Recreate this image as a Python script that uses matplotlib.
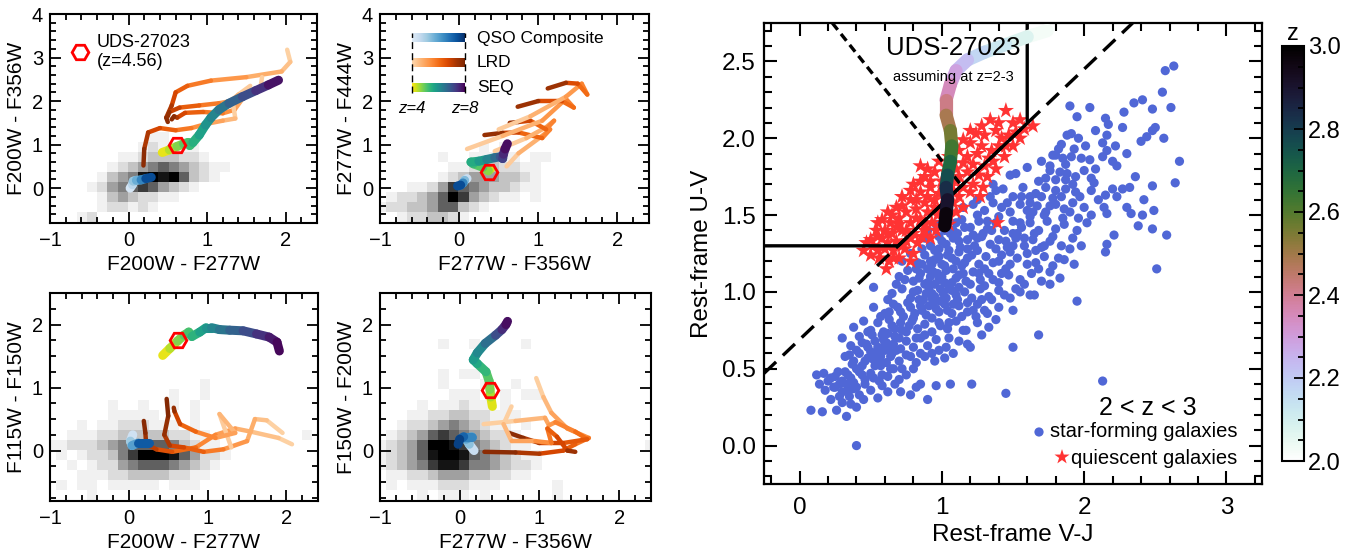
import numpy as np
import matplotlib
matplotlib.use("Agg")
import matplotlib.pyplot as plt
from matplotlib.collections import LineCollection
from matplotlib.ticker import MultipleLocator, FormatStrFormatter
from matplotlib import colors as mcolors
from matplotlib.cm import ScalarMappable

plt.rcParams['font.family'] = ['Liberation Sans', 'DejaVu Sans']

# ---------------- data ----------------
obj_p1 = (0.62, 0.98)
obj_p2 = (0.38, 0.37)
obj_p3 = (0.62, 1.76)
obj_p4 = (0.38, 0.96)

heat1 = [
    "000120000000000000000000000",
    "000001221210000000000000000",
    "000001343221100000000000000",
    "000012456764321000000000000",
    "000001345898963210000000000",
    "000000123456543211000000000",
    "000000011233322100000000000",
    "000000000121111000000000000",
    "000000000011000000000000000",
]
heat2 = [
    "001223321000000000000000000",
    "122334663210000000000000000",
    "012234697432110100000000000",
    "000112476543321100000000000",
    "000000123444332100000000000",
    "000000011223221100000000000",
    "000000100111110110000000000",
    "000000000010100000000000000",
]
heat3 = [
    "000010000000000000000000000",
    "010110111110111000000000000",
    "000111223333221100000000000",
    "001012245666543210000000000",
    "010122357999864221000000000",
    "112223456666532110000000000",
    "001112233333221100000000010",
    "000101122211101000000000000",
    "000000111110001000000000000",
    "000000100100101000000000000",
    "000000000000100100000000000",
    "000000000000000100000000000",
]
heat4 = [
    "000010111010000001000000000",
    "010111222111000001000000000",
    "011223444332211000000000000",
    "123457887554322100000000000",
    "123468998654321100000000000",
    "123469987543211000000000001",
    "012346765432210000000000000",
    "001223454321101000000000000",
    "000112233221110000000000000",
    "000010112110100000000000000",
    "000000011100101100000000000",
    "000000100010010000000000000",
    "000000101100000000000000000",
    "000000000000000000000000000",
    "000000000000000000000000000",
    "000000100100001000000000000",
]

seq1 = [(0.43,0.82,4.0),(0.52,0.88,4.3),(0.62,0.96,4.6),(0.70,1.02,4.9),(0.76,1.05,5.1),
        (0.78,0.98,5.2),(0.82,1.05,5.35),(0.90,1.22,5.6),(0.98,1.45,5.85),(1.05,1.62,6.05),
        (1.15,1.80,6.3),(1.28,1.95,6.6),(1.45,2.10,6.9),(1.62,2.24,7.25),(1.78,2.37,7.6),(1.91,2.48,8.0)]
seq2 = [(0.40,0.45,4.0),(0.37,0.40,4.5),(0.30,0.48,4.9),(0.18,0.56,5.2),(0.15,0.60,5.4),
        (0.25,0.62,5.7),(0.35,0.66,6.0),(0.45,0.70,6.4),(0.52,0.72,6.8),(0.55,0.68,7.1),
        (0.56,0.78,7.4),(0.58,0.90,7.7),(0.61,1.02,8.0)]
seq3 = [(0.43,1.51,4.0),(0.52,1.62,4.3),(0.62,1.74,4.6),(0.70,1.83,4.9),(0.76,1.88,5.1),
        (0.80,1.81,5.25),(0.90,1.88,5.6),(0.98,1.95,5.85),(1.05,1.95,6.05),(1.15,1.92,6.3),
        (1.28,1.91,6.6),(1.45,1.90,6.9),(1.62,1.85,7.25),(1.78,1.80,7.6),(1.88,1.72,7.85),(1.91,1.58,8.0)]
seq4 = [(0.41,0.70,4.0),(0.39,0.85,4.4),(0.38,0.97,4.6),(0.37,1.10,4.9),(0.33,1.25,5.2),
        (0.22,1.38,5.5),(0.17,1.44,5.7),(0.22,1.55,5.95),(0.32,1.70,6.3),(0.45,1.83,6.8),
        (0.53,1.92,7.3),(0.58,2.00,7.7),(0.60,2.05,8.0)]

qso1 = [(0.02,0.00,4.0),(0.05,0.08,4.5),(0.06,0.16,5.0),(0.10,0.18,5.5),(0.16,0.19,6.0),(0.22,0.22,7.0),(0.29,0.25,8.0)]
qso2 = [(0.10,0.22,4.0),(0.07,0.18,5.0),(0.05,0.12,6.0),(0.02,0.07,7.0),(-0.02,0.05,8.0)]
qso3 = [(0.05,0.25,4.0),(0.02,0.15,4.8),(0.04,0.08,5.5),(0.12,0.12,6.5),(0.26,0.12,8.0)]
qso4 = [(0.18,0.00,4.0),(0.12,0.10,5.0),(0.08,0.18,5.7),(0.15,0.22,6.2),(0.05,0.22,6.8),(0.00,0.18,7.4),(-0.02,0.10,8.0)]

lrd1 = [
    [(2.02,3.18,4.0),(2.06,2.90,4.3),(1.95,2.68,4.6),(1.50,2.55,5.0),(1.05,2.47,5.5),(0.75,2.35,6.0),
     (0.60,2.20,6.5),(0.55,1.90,7.0),(0.48,1.62,7.5),(0.50,1.52,8.0)],
    [(1.70,2.55,4.0),(1.68,2.30,4.4),(1.45,2.05,4.8),(1.35,1.80,5.2),(1.20,1.72,5.6),(0.95,1.75,6.0),
     (0.72,1.73,6.5),(0.62,1.62,7.0),(0.58,1.65,7.5),(0.55,1.58,8.0)],
    [(1.32,2.05,4.0),(1.36,1.60,4.4),(1.20,1.55,4.8),(1.00,1.48,5.2),(0.80,1.38,5.6),(0.60,1.33,6.0),
     (0.40,1.38,6.5),(0.25,1.28,7.0),(0.20,0.90,7.5),(0.19,0.52,8.0)],
    [(1.55,2.35,4.0),(1.40,2.15,4.5),(1.30,2.00,5.0),(1.15,1.95,5.5),(0.90,1.90,6.0),(0.65,1.85,6.6),(0.52,1.75,7.2),(0.50,1.65,8.0)],
]
lrd2 = [
    [(0.60,0.50,4.0),(0.75,0.80,4.5),(1.05,1.20,5.0),(1.15,1.35,5.4),(1.05,1.15,5.8),(0.75,1.28,6.5),(0.55,1.27,7.2),(0.32,1.22,8.0)],
    [(0.45,0.85,4.0),(0.85,1.15,4.5),(1.10,1.40,5.0),(1.20,1.55,5.4),(1.10,1.35,5.8),(0.90,1.55,6.5),(0.75,1.52,7.2),(0.64,1.50,8.0)],
    [(0.10,0.90,4.0),(0.55,1.20,4.5),(1.05,1.55,5.0),(1.35,2.05,5.5),(1.45,1.85,5.8),(1.30,2.00,6.3),(1.00,2.00,7.0),(0.74,1.87,8.0)],
    [(0.50,1.35,4.0),(0.90,1.65,4.5),(1.35,2.10,5.0),(1.55,2.40,5.4),(1.62,2.15,5.8),(1.50,2.40,6.3),(1.35,2.42,7.0),(1.12,2.29,8.0)],
]
lrd3 = [
    [(2.07,0.10,4.0),(1.90,0.20,4.3),(1.55,0.30,4.6),(1.35,0.35,4.9),(1.10,0.25,5.3),(0.85,0.05,5.8),
     (0.55,-0.02,6.3),(0.35,0.02,6.8),(0.22,0.10,7.3),(0.21,0.28,7.7),(0.19,0.47,8.0)],
    [(1.95,0.28,4.0),(1.75,0.48,4.3),(1.60,0.50,4.6),(1.50,0.15,5.0),(1.20,0.02,5.5),(0.95,-0.02,6.0),
     (0.70,0.05,6.5),(0.52,0.08,7.0),(0.45,0.25,7.5),(0.50,0.55,7.8),(0.48,0.82,8.0)],
    [(1.30,0.05,4.0),(1.15,0.58,4.5),(1.35,0.28,4.8),(1.10,0.20,5.3),(0.85,0.30,5.8),(0.65,0.42,6.5),(0.58,0.62,7.2),(0.57,0.68,8.0)],
]
lrd4 = [
    [(0.96,1.15,4.0),(1.05,0.85,4.4),(1.15,0.60,4.8),(1.35,0.35,5.2),(1.62,0.20,5.6),(1.45,0.10,6.0),
     (1.30,0.00,6.5),(1.00,-0.05,7.0),(0.70,-0.03,7.5),(0.31,-0.02,8.0)],
    [(0.30,0.42,4.0),(0.70,0.47,4.4),(1.07,0.52,4.8),(1.12,0.40,5.1),(1.20,0.45,5.4),(1.45,0.30,5.8),
     (1.60,0.18,6.2),(1.30,0.12,6.6),(1.00,0.12,7.0),(0.80,0.20,7.5),(0.62,0.28,8.0)],
    [(0.65,0.70,4.0),(0.55,0.42,4.4),(0.65,0.15,4.8),(0.95,0.15,5.2),(1.15,0.12,5.6),(1.10,0.35,6.0),(1.22,0.22,6.5),(1.35,0.00,7.0),(1.45,-0.02,8.0)],
]

sf_vj_uv = [
    (2.57,2.44),(2.63,2.47),(2.55,2.30),(2.41,2.25),(2.35,2.23),
    (1.90,2.21),(2.04,2.20),(2.61,2.20),(2.48,2.19),(2.28,2.17),(1.95,2.14),
    (2.15,2.13),(2.17,2.09),(2.27,2.07),(2.48,2.05),(2.50,2.07),(1.88,2.02),(1.91,2.03),
    (2.16,2.02),(2.44,2.01),(2.56,2.00),(2.40,1.98),(1.84,1.96),(1.93,1.93),(2.01,1.95),(2.13,1.97),(2.16,1.92),
    (1.78,1.89),(1.80,1.89),(1.85,1.87),(1.91,1.88),(1.98,1.87),(2.04,1.86),(2.13,1.88),(2.20,1.85),(2.23,1.82),
    (2.67,1.85),(1.87,1.83),(1.76,1.82),
    (1.48,1.76),(1.52,1.77),(1.60,1.81),(1.76,1.79),(1.83,1.78),(1.88,1.77),(1.94,1.75),(2.00,1.79),(2.08,1.80),
    (2.05,1.74),(2.07,1.71),(2.64,1.71),(1.73,1.74),(1.80,1.73),(1.87,1.73),
    (1.43,1.67),(1.57,1.68),(1.66,1.64),(1.73,1.68),(1.80,1.66),(1.87,1.67),(1.94,1.65),(2.27,1.67),(2.32,1.68),
    (2.20,1.67),(2.48,1.69),(2.15,1.63),(2.23,1.62),(1.34,1.62),(1.38,1.66),(1.50,1.62),(1.62,1.62),(1.78,1.61),
    (1.97,1.62),(1.36,1.70),
    (1.15,1.55),(1.22,1.57),(1.30,1.53),(1.36,1.58),(1.42,1.55),(1.48,1.52),(1.55,1.57),(1.60,1.53),(1.67,1.56),
    (1.73,1.52),(1.80,1.57),(1.86,1.54),(1.92,1.58),(2.00,1.55),(2.14,1.55),(2.16,1.51),(2.33,1.51),(2.41,1.50),
    (2.49,1.53),(1.25,1.50),(1.40,1.49),(1.62,1.49),
    (2.38,1.43),(2.48,1.41),(2.58,1.37),(2.21,1.37),
    (1.02,1.45),(1.08,1.40),(1.14,1.47),(1.20,1.42),(1.26,1.46),(1.32,1.41),(1.38,1.45),(1.44,1.40),(1.50,1.46),
    (1.56,1.42),(1.62,1.45),(1.68,1.40),(1.74,1.46),(1.80,1.41),(1.86,1.44),(1.95,1.40),(2.02,1.45),(1.11,1.38),
    (1.29,1.38),(1.53,1.38),
    (2.16,1.31),(2.15,1.26),
    (0.88,1.35),(0.92,1.30),(0.98,1.36),(1.03,1.31),(1.08,1.35),(1.13,1.29),(1.18,1.34),(1.23,1.30),(1.28,1.36),
    (1.34,1.31),(1.40,1.34),(1.46,1.29),(1.52,1.35),(1.58,1.30),(1.64,1.34),(1.70,1.29),(1.76,1.33),(1.84,1.30),
    (1.92,1.35),(1.98,1.30),(1.05,1.27),(1.25,1.27),
    (0.72,1.20),(0.78,1.25),(0.83,1.19),(0.88,1.24),(0.93,1.18),(0.98,1.23),(1.02,1.17),(1.07,1.22),(1.12,1.26),
    (1.16,1.19),(1.21,1.24),(1.26,1.18),(1.31,1.23),(1.36,1.19),(1.42,1.24),(1.48,1.18),(1.53,1.22),(1.60,1.25),
    (1.66,1.19),(1.72,1.23),(1.78,1.17),(1.86,1.21),(1.93,1.18),(0.95,1.21),(1.18,1.22),(1.40,1.20),(2.51,1.15),
    (0.70,1.10),(0.76,1.14),(0.80,1.07),(0.85,1.12),(0.90,1.06),(0.94,1.13),(0.98,1.08),(1.03,1.14),(1.07,1.06),
    (1.12,1.11),(1.17,1.07),(1.22,1.13),(1.27,1.08),(1.33,1.12),(1.40,1.06),(1.47,1.11),(1.55,1.08),(1.63,1.12),
    (1.70,1.07),(1.76,1.13),(1.83,1.09),(0.92,1.10),(1.00,1.10),(1.10,1.09),
    (0.52,1.03),(0.65,0.99),(0.72,1.02),(0.78,0.96),(0.83,1.01),(0.87,0.95),(0.91,1.03),(0.95,0.97),(0.99,1.02),
    (1.03,0.96),(1.07,1.01),(1.11,0.95),(1.16,1.00),(1.21,0.96),(1.27,1.02),(1.33,0.97),(1.40,1.01),(1.48,0.96),
    (1.55,1.00),(1.65,0.98),(0.93,0.99),(1.01,0.99),(0.89,0.99),(1.95,0.94),
    (0.52,0.90),(0.60,0.86),(0.66,0.92),(0.71,0.87),(0.76,0.93),(0.81,0.86),(0.85,0.91),(0.89,0.85),(0.94,0.92),
    (0.98,0.87),(1.02,0.92),(1.07,0.86),(1.12,0.91),(1.18,0.87),(1.25,0.92),(1.32,0.86),(1.40,0.90),(1.50,0.88),
    (0.86,0.88),(0.96,0.89),(1.68,0.72),
    (0.38,0.77),(0.45,0.81),(0.50,0.75),(0.55,0.80),(0.59,0.74),(0.63,0.82),(0.67,0.76),(0.71,0.80),(0.75,0.74),
    (0.79,0.81),(0.83,0.76),(0.88,0.79),(0.93,0.74),(0.98,0.80),(1.04,0.76),(1.10,0.81),(1.17,0.75),(1.25,0.80),
    (1.33,0.77),(0.65,0.78),
    (0.30,0.70),(0.36,0.65),(0.42,0.71),(0.47,0.66),(0.51,0.72),(0.55,0.64),(0.59,0.69),(0.63,0.65),(0.67,0.71),
    (0.71,0.63),(0.75,0.68),(0.80,0.64),(0.85,0.70),(0.90,0.65),(0.96,0.69),(1.03,0.64),(1.12,0.68),(1.20,0.64),
    (0.53,0.68),(0.61,0.67),(1.50,0.64),
    (0.32,0.58),(0.37,0.53),(0.42,0.60),(0.46,0.55),(0.50,0.61),(0.53,0.52),(0.57,0.58),(0.61,0.54),(0.65,0.60),
    (0.70,0.55),(0.75,0.59),(0.82,0.54),(0.88,0.58),(0.95,0.55),(0.48,0.57),(0.56,0.55),(1.02,0.57),
    (0.12,0.46),(0.17,0.47),(0.22,0.44),(0.27,0.48),(0.30,0.42),(0.34,0.46),(0.38,0.41),(0.42,0.48),(0.46,0.43),
    (0.50,0.47),(0.56,0.42),(0.62,0.45),(0.70,0.43),(0.85,0.40),(0.66,0.50),(2.13,0.42),(1.21,0.40),(1.06,0.40),
    (0.96,0.39),
    (0.90,0.30),(0.82,0.38),(0.78,0.33),(0.71,0.35),(0.67,0.40),(1.45,0.34),(0.25,0.38),(0.30,0.35),(0.35,0.32),
    (0.38,0.37),(0.42,0.33),(0.45,0.30),(0.50,0.36),(0.55,0.31),(0.33,0.40),
    (0.33,0.19),(0.26,0.23),(0.16,0.22),(0.08,0.23),(0.36,0.27),(0.40,0.25),(0.30,0.28),(0.40,0.00),
    (0.90,1.15),(0.95,1.05),(1.00,1.18),(1.05,1.02),(0.88,1.05),(0.93,0.96),(1.08,1.15),(0.97,1.12),(1.02,1.06),
    (0.86,1.18),(1.12,1.03),(0.91,0.91),(0.99,0.94),(1.04,1.24),(0.84,1.09),(0.95,1.27),(1.10,1.20),(1.15,1.12),
    (0.80,1.00),(0.78,0.90),
    (0.55,0.62),(0.60,0.66),(0.64,0.58),(0.58,0.72),(0.52,0.60),(0.68,0.62),(0.62,0.73),(0.70,0.70),(0.57,0.52),
    (0.48,0.64),
    (0.20,0.42),(0.25,0.45),(0.28,0.40),(0.32,0.48),(0.36,0.44),(0.40,0.50),(0.44,0.46),(0.24,0.38),
    (1.25,1.35),(1.35,1.40),(1.45,1.33),(1.55,1.45),(1.65,1.38),(1.72,1.50),(1.85,1.48),(1.30,1.15),(1.45,1.15),
    (1.58,1.05),(1.68,1.15),(1.35,0.95),(1.22,0.88),(1.15,0.75),(1.05,0.70),
    (0.62,0.95),(0.68,1.05),(0.74,1.08),(0.82,1.15),(0.86,1.28),(0.90,1.40),(0.96,1.44),(1.00,1.33),(1.06,1.38),
    (1.12,1.33),(1.16,1.42),(1.22,1.37),(1.18,1.28),(1.14,1.17),(1.20,1.05),(1.26,1.12),(1.30,1.04),(1.36,1.08),
    (1.42,1.12),(1.38,1.28),(1.48,1.26),(1.50,1.38),(1.58,1.35),(1.60,1.18),(1.52,1.02),(1.44,0.98),(1.28,0.95),
    (1.24,0.84),(1.14,0.84),(1.08,0.92),(1.05,0.80),(0.99,0.78),(0.93,0.83),(0.88,0.72),(0.82,0.70),(0.77,0.78),
    (0.73,0.84),(0.69,0.90),(0.63,0.87),(0.57,0.84),(0.48,0.74),(0.44,0.67),(0.40,0.62),(0.35,0.59),(0.38,0.55),
    (0.44,0.52),(0.52,0.56),(0.60,0.62),(0.66,0.66),(0.72,0.75),(0.80,0.83),(0.84,0.95),(0.92,1.20),(0.98,1.28),
    (1.02,1.40),(1.10,1.45),(1.04,0.88),(1.10,0.98),(1.18,0.93),(1.30,0.88),(1.38,0.82),(1.28,0.72),(1.18,0.66),
    (1.08,0.60),(0.98,0.62),(0.93,0.60),(0.85,0.60),(0.78,0.58),(0.72,0.50),(0.64,0.50),(0.58,0.46),(0.52,0.44),
    (0.46,0.40),(0.40,0.38),(0.34,0.36),(0.28,0.32),(0.22,0.30),(0.18,0.36),(0.14,0.40),(0.58,0.39),(0.62,0.35),
    (0.75,0.46),(0.80,0.50),
    (1.62,1.58),(1.70,1.62),(1.76,1.56),(1.84,1.62),(1.90,1.52),(1.96,1.48),(2.05,1.50),(2.10,1.60),(2.05,1.66),
    (1.92,1.70),(1.68,1.72),(1.64,1.52),(1.56,1.62),(1.46,1.58),(1.70,1.85),(1.82,1.93),(1.96,2.00),(2.08,2.05),
    (2.22,1.95),(2.30,1.90),(2.36,1.75),(2.42,1.60),(2.30,1.55),(1.25,1.60),(1.32,1.46),(1.78,1.36),(1.90,1.28),
    (1.72,1.30),(1.66,1.27),(1.82,1.22),(1.76,1.05),(1.62,0.98),(1.50,1.30),
]
q_vj_uv = [
    (1.45,2.18),(1.50,2.10),(1.55,2.12),(1.64,2.08),(1.34,2.12),(1.38,2.05),(1.42,2.00),(1.30,2.02),(1.24,2.03),
    (1.20,1.97),(1.15,1.99),(1.28,1.95),(1.35,1.92),(1.40,1.95),(1.47,2.02),(1.52,2.04),(1.58,2.06),(1.33,1.87),
    (1.25,1.90),(1.18,1.88),(1.12,1.92),(1.22,1.83),(1.30,1.82),(1.36,1.85),(1.44,1.88),(1.10,1.80),(1.15,1.84),
    (1.26,1.76),
    (0.88,1.75),(0.95,1.78),(1.00,1.72),(0.92,1.68),(0.85,1.65),(0.80,1.70),(0.98,1.64),(1.05,1.68),(1.10,1.72),
    (1.12,1.62),(1.08,1.58),(0.95,1.60),(0.88,1.58),(0.78,1.60),(0.72,1.62),(0.82,1.54),(0.90,1.52),(1.00,1.55),
    (1.05,1.50),(0.75,1.52),(0.68,1.55),(0.70,1.48),(0.78,1.45),(0.85,1.47),(0.93,1.45),(1.00,1.43),(0.97,1.50),
    (1.15,1.55),(1.20,1.65),(1.27,1.62),(1.29,1.68),(1.03,1.78),(1.07,1.83),(0.90,1.80),
    (0.64,1.45),(0.60,1.40),(0.54,1.40),(0.58,1.35),(0.65,1.38),(0.72,1.40),(0.80,1.38),(0.88,1.40),(0.68,1.33),
    (0.75,1.33),(0.83,1.32),(0.47,1.32),(0.52,1.30),(0.60,1.28),(0.66,1.27),(0.74,1.28),(0.80,1.25),(0.50,1.24),
    (0.56,1.22),(0.63,1.20),(0.61,1.15),(0.70,1.22),(0.78,1.20),(0.62,1.32),(0.70,1.44),(0.92,1.35),(1.39,1.45),
    (1.05,1.88),(1.12,1.75),(1.18,1.78),(1.22,1.70),(1.32,1.75),(1.38,1.80),(1.45,1.95),(1.50,1.95),(1.55,2.00),
    (1.40,2.10),(1.28,2.08),(1.20,2.05),(0.98,1.85),(0.85,1.82),(0.92,1.72),(0.85,1.72),(0.78,1.66),(0.72,1.56),
    (0.65,1.50),(0.62,1.52),(0.58,1.47),(0.55,1.45),(0.82,1.60),(0.95,1.55),(1.02,1.62),(1.08,1.66),(1.15,1.68),
    (0.90,1.62),(0.82,1.48),(0.88,1.44),(0.75,1.40),(0.68,1.42),(0.62,1.38),(0.55,1.36),(0.50,1.34),(0.45,1.27),
    (0.55,1.27),(0.66,1.22),(0.72,1.30),(0.78,1.35),(0.86,1.36),(0.96,1.40),(1.05,1.44),(1.10,1.52),
]
uds_track = [(1.74,2.70,2.00),(1.60,2.66,2.05),(1.45,2.61,2.10),(1.30,2.56,2.15),(1.18,2.51,2.20),
             (1.10,2.44,2.26),(1.06,2.35,2.32),(1.03,2.25,2.38),(1.03,2.15,2.45),(1.06,2.05,2.52),
             (1.07,1.95,2.59),(1.06,1.85,2.66),(1.04,1.76,2.73),(1.03,1.68,2.80),(1.04,1.60,2.87),
             (1.03,1.51,2.94),(1.02,1.43,3.00)]

# ---------------- helpers ----------------
W, H = 1372, 551
fig = plt.figure(figsize=(W/100, H/100), dpi=100)

def rect(l, t, r, b):
    return [l/W, 1 - b/H, (r - l)/W, (b - t)/H]

lrd_cmap = mcolors.LinearSegmentedColormap.from_list('lrd', plt.cm.Oranges(np.linspace(0.22, 1.0, 256)))
qso_cmap = mcolors.LinearSegmentedColormap.from_list('qso', plt.cm.Blues(np.linspace(0.12, 1.0, 256)))
seq_cmap = plt.cm.viridis_r
znorm = mcolors.Normalize(4, 8)

def draw_track(ax, pts, cmap, norm, lw, zorder):
    p = np.array(pts, dtype=float)
    segs = np.stack([p[:-1, :2], p[1:, :2]], axis=1)
    lc = LineCollection(segs, cmap=cmap, norm=norm, linewidths=lw, zorder=zorder)
    lc.set_capstyle('round')
    lc.set_joinstyle('round')
    lc.set_array(0.5 * (p[:-1, 2] + p[1:, 2]))
    ax.add_collection(lc)

def draw_heat(ax, rows, y0, dy):
    arr = np.array([[int(c) for c in r] for r in rows], dtype=float)
    ny, nx = arr.shape
    xe = -1.05 + 0.13 * np.arange(nx + 1)
    ye = y0 + dy * np.arange(ny + 1)
    m = np.ma.masked_where(arr == 0, arr)
    ax.pcolormesh(xe, ye, m, cmap='Greys', vmin=0, vmax=8.6, zorder=1)

def style_small(ax, yminor=0.2):
    ax.set_xlim(-1.0, 2.4)
    ax.xaxis.set_major_locator(MultipleLocator(1))
    ax.xaxis.set_minor_locator(MultipleLocator(0.2))
    ax.yaxis.set_major_locator(MultipleLocator(1))
    ax.yaxis.set_minor_locator(MultipleLocator(yminor))
    ax.tick_params(which='both', direction='in', top=True, right=True, width=1.3, labelsize=14.5)
    ax.tick_params(which='major', length=8)
    ax.tick_params(which='minor', length=4.5)
    ax.tick_params(axis='x', pad=6)
    ax.tick_params(axis='y', pad=5)
    for s in ax.spines.values():
        s.set_linewidth(1.5)

panels = [
    (rect(50, 14, 317, 223), heat1, -0.78, 0.23, (-0.8, 4.0), 0.2, 'F200W - F277W', 'F200W - F356W',
     seq1, qso1, lrd1, obj_p1),
    (rect(380, 14, 649, 223), heat2, -0.78, 0.23, (-0.8, 4.0), 0.2, 'F277W - F356W', 'F277W - F444W',
     seq2, qso2, lrd2, obj_p2),
    (rect(50, 293, 318, 501), heat3, -0.79, 0.16, (-0.8, 2.5), 0.25, 'F200W - F277W', 'F115W - F150W',
     seq3, qso3, lrd3, obj_p3),
    (rect(380, 293, 651, 501), heat4, -0.79, 0.16, (-0.8, 2.5), 0.25, 'F277W - F356W', 'F150W - F200W',
     seq4, qso4, lrd4, obj_p4),
]

axes_small = []
for (pos, heat, y0, dy, ylim, yminor, xl, yl, seq, qso, lrds, obj) in panels:
    ax = fig.add_axes(pos)
    draw_heat(ax, heat, y0, dy)
    for tr in lrds:
        draw_track(ax, tr, lrd_cmap, znorm, 3.2, 3)
    draw_track(ax, qso, qso_cmap, znorm, 6.5, 4)
    draw_track(ax, seq, seq_cmap, znorm, 6.5, 5)
    ax.plot(obj[0], obj[1], marker='H', ms=12, mfc='none', mec='#ff0000', mew=2.0, zorder=6)
    ax.set_ylim(*ylim)
    style_small(ax, yminor)
    ax.set_xlabel(xl, fontsize=15, labelpad=3)
    ax.set_ylabel(yl, fontsize=15, labelpad=4)
    axes_small.append(ax)

ax1 = axes_small[0]
ax1.plot([0.112], [0.818], transform=ax1.transAxes, marker='H', ms=12, mfc='none', mec='#ff0000', mew=2.0, clip_on=False)
ax1.text(0.176, 0.866, 'UDS-27023', transform=ax1.transAxes, fontsize=13, va='center', ha='left')
ax1.text(0.176, 0.772, '(z=4.56)', transform=ax1.transAxes, fontsize=13, va='center', ha='left')

ax2 = axes_small[1]
grad = np.linspace(0, 1, 256).reshape(1, -1)
x0s, x1s = 0.119, 0.316
for fy, cmap, lab in [(0.885, qso_cmap, 'QSO Composite'), (0.766, lrd_cmap, 'LRD'), (0.646, seq_cmap, 'SEQ')]:
    ax2.imshow(grad, cmap=cmap, aspect='auto', extent=(x0s, x1s, fy - 0.02, fy + 0.02),
               transform=ax2.transAxes, zorder=7, interpolation='bilinear')
    ax2.text(0.36, fy, lab, transform=ax2.transAxes, fontsize=12.5, va='center', ha='left')
for xx in (x0s, x1s):
    ax2.plot([xx, xx], [0.622, 0.909], transform=ax2.transAxes, color='k', lw=1.0, ls=(0, (5, 3)), zorder=8)
ax2.text(x0s, 0.55, 'z=4', transform=ax2.transAxes, fontsize=12, style='italic', ha='center', va='center')
ax2.text(x1s, 0.55, 'z=8', transform=ax2.transAxes, fontsize=12, style='italic', ha='center', va='center')
ax2.set_xlim(-1.0, 2.4)
ax2.set_ylim(-0.8, 4.0)

# ---------------- UVJ panel ----------------
axR = fig.add_axes(rect(764, 23, 1262, 484))
sf = np.array(sf_vj_uv)
q = np.array(q_vj_uv)
axR.scatter(sf[:, 0], sf[:, 1], s=44, color='#5067d6', edgecolors='none', zorder=2)
axR.scatter(q[:, 0], q[:, 1], s=150, marker='*', color='#ff3333', edgecolors='none', zorder=3)

xa = -0.25
xb = (2.75 - 0.69) / 0.88
axR.plot([xa, xb], [0.88 * xa + 0.69, 0.88 * xb + 0.69], color='k', lw=2.4, ls=(0, (5, 2.8)), zorder=4)
xc = (1.3 - 0.69) / 0.88
axR.plot([xa, xc, 1.6, 1.6], [1.3, 1.3, 0.88 * 1.6 + 0.69, 2.75], color='k', lw=2.4, zorder=4, solid_joinstyle='miter')
axR.plot([0.23, 1.14], [2.75, 1.69], color='k', lw=2.4, ls=(0, (2.6, 1.6)), zorder=4)

draw_track(axR, uds_track, plt.cm.cubehelix_r, mcolors.Normalize(2, 3), 9.5, 6)

axR.text(1.08, 2.585, 'UDS-27023', fontsize=18.5, ha='center', va='center', zorder=7)
axR.text(1.08, 2.40, 'assuming at z=2-3', fontsize=10.5, ha='center', va='center', zorder=7)

axR.text(2.45, 0.245, '2 < z < 3', fontsize=18, ha='center', va='center')
axR.text(0.951, 0.113, 'star-forming galaxies', transform=axR.transAxes, fontsize=14.5, ha='right', va='center')
axR.text(0.951, 0.056, 'quiescent galaxies', transform=axR.transAxes, fontsize=14.5, ha='right', va='center')
axR.scatter([(1039 - 764) / 498], [1 - (432 - 23) / 461], s=44, color='#5067d6', transform=axR.transAxes, edgecolors='none')
axR.scatter([(1062 - 764) / 498], [1 - (457 - 23) / 461], s=130, marker='*', color='#ff3333', transform=axR.transAxes, edgecolors='none')

axR.set_xlim(-0.25, 3.25)
axR.set_ylim(-0.25, 2.75)
axR.xaxis.set_major_locator(MultipleLocator(1))
axR.xaxis.set_minor_locator(MultipleLocator(0.2))
axR.yaxis.set_major_locator(MultipleLocator(0.5))
axR.yaxis.set_minor_locator(MultipleLocator(0.1))
axR.yaxis.set_major_formatter(FormatStrFormatter('%.1f'))
axR.tick_params(which='both', direction='in', top=True, right=True, width=1.5, labelsize=17.5)
axR.tick_params(which='major', length=9.5)
axR.tick_params(which='minor', length=5.5)
axR.tick_params(axis='x', pad=9)
axR.tick_params(axis='y', pad=6)
for s in axR.spines.values():
    s.set_linewidth(1.6)
axR.set_xlabel('Rest-frame V-J', fontsize=17.5, labelpad=4)
axR.set_ylabel('Rest-frame U-V', fontsize=17.5, labelpad=6)

cax = fig.add_axes(rect(1282, 46, 1304, 461))
sm = ScalarMappable(norm=mcolors.Normalize(2, 3), cmap=plt.cm.cubehelix_r)
cb = fig.colorbar(sm, cax=cax)
cb.set_ticks([2.0, 2.2, 2.4, 2.6, 2.8, 3.0])
cb.ax.yaxis.set_major_formatter(FormatStrFormatter('%.1f'))
cax.yaxis.set_minor_locator(MultipleLocator(0.05))
cax.tick_params(which='both', direction='in', right=True, left=False, width=1.3, labelsize=17, pad=3)
cax.tick_params(which='major', length=7)
cax.tick_params(which='minor', length=4)
cb.outline.set_linewidth(1.5)
cax.set_title('z', fontsize=17, pad=4)

fig.savefig('out.png', dpi=100)
